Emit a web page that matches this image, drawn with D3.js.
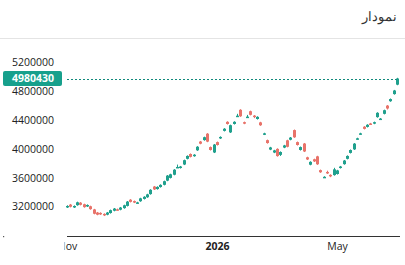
<!DOCTYPE html>
<html lang="fa">
	<head>
		<meta charset="utf-8">
		<title>نمودار</title>
		<script type="text/javascript" src="https://d3js.org/d3.v7.min.js"></script>
		<style type="text/css">
			body { margin: 0; background: #fff; }
			text { font-family: "Open Sans", sans-serif; }
		</style>
	</head>
	<body>
		<script type="text/javascript">

			//Width and height
			var w = 405;
			var h = 265;

			//candle values, in thousands
			var opens = [3190,3229,3190,3221,3256,3234,3204,3206,3162,3119,3114,3100,3089,3112,3144,3164,3158,3180,3211,3297,
				3278,3250,3276,3308,3331,3375,3480,3445,3473,3504,3562,3600,3644,3744,3738,3786,3865,3932,3902,3983,
				4105,4125,4214,4028,3953,4097,4149,4253,4379,4232,4349,4456,4546,4374,4443,4526,4465,4418,4371,4209,
				4124,3993,3952,4003,3920,4021,4122,4130,4264,4097,3988,4077,3886,3783,3859,3899,3708,3607,3683,3642,
				3639,3654,3738,3791,3865,3947,3996,4140,4209,4311,4308,4356,4354,4444,4414,4490,4604,4665,4764,4895];
			var highs = [3220,3238,3218,3270,3264,3242,3232,3214,3170,3127,3122,3108,3127,3160,3182,3174,3196,3228,3279,3305,
				3286,3268,3324,3346,3379,3443,3488,3483,3511,3562,3640,3658,3722,3785,3766,3854,3913,3940,3930,4041,
				4113,4173,4222,4036,4071,4105,4177,4291,4387,4340,4387,4490,4554,4382,4475,4534,4473,4456,4379,4227,
				4132,4031,3990,4011,3968,4059,4130,4168,4272,4105,4036,4085,3894,3831,3867,3907,3716,3623,3700,3650,
				3740,3712,3766,3849,3913,3995,4084,4158,4227,4319,4346,4364,4382,4512,4432,4548,4612,4703,4822,4990];
			var lows = [3182,3190,3183,3214,3218,3186,3196,3158,3094,3081,3086,3070,3081,3104,3136,3146,3150,3172,3203,3259,
				3250,3242,3268,3300,3323,3367,3432,3437,3465,3496,3554,3592,3636,3738,3730,3778,3857,3884,3894,3975,
				4067,4117,4096,3980,3945,4049,4141,4245,4341,4224,4341,4450,4448,4346,4437,4468,4430,4410,4323,4195,
				4076,3985,3944,3895,3905,4013,4024,4122,4156,4049,3980,3959,3848,3775,3821,3781,3670,3600,3655,3610,
				3631,3646,3730,3783,3857,3939,3988,4132,4201,4273,4300,4338,4346,4436,4406,4482,4550,4657,4756,4887];
			var closes = [3210,3199,3210,3261,3226,3194,3224,3166,3102,3089,3094,3080,3119,3152,3174,3154,3188,3220,3271,3267,
				3258,3260,3316,3338,3371,3435,3440,3475,3503,3554,3632,3650,3714,3752,3758,3846,3905,3892,3922,4033,
				4075,4165,4104,3988,4063,4057,4169,4283,4349,4332,4379,4464,4456,4354,4451,4476,4455,4448,4331,4219,
				4084,4023,3982,3903,3960,4051,4032,4160,4164,4057,4028,3967,3856,3823,3829,3789,3678,3615,3675,3634,
				3719,3704,3758,3841,3905,3987,4076,4150,4219,4281,4338,4346,4374,4504,4424,4540,4564,4695,4814,4980.43];

			//axis labels
			var yTicks = [3200, 3600, 4000, 4400, 4800, 5200];
			var xTickLabels = ["Nov", "2026", "May"];
			var xTickIndex = [0, 45, 81];
			var lastValue = 4980430;

			var green = "#1fa08d";
			var red = "#e8736a";

			//Create SVG element
			var svg = d3.select("body")
						.append("svg")
						.attr("width", w)
						.attr("height", h);

			//title bar
			svg.append("text")
				.attr("x", 397)
				.attr("y", 21)
				.attr("text-anchor", "start")
				.attr("direction", "rtl")
				.style("font-size", "13px")
				.style("fill", "#333")
				.text("نمودار");

			svg.append("line")
				.attr("x1", 0).attr("x2", w)
				.attr("y1", 38.5).attr("y2", 38.5)
				.style("stroke", "#e4e4e4");

			//scales
			var x = d3.scaleLinear().domain([0, opens.length - 1]).range([67, 397]);
			var y = d3.scaleLinear().domain([3200, 5200]).range([206.7, 62.7]);

			//y axis labels
			svg.append("g")
				.selectAll("text")
				.data(yTicks)
				.enter()
				.append("text")
				.attr("x", 12)
				.attr("y", function(d) { return y(d); })
				.attr("dy", "0.35em")
				.style("font-size", "10.5px")
				.style("fill", "#222")
				.text(function(d) { return d3.format("d")(d * 1000); });

			//x axis (the first label is cut at the plot's left edge)
			svg.append("clipPath")
				.attr("id", "xclip")
				.append("rect")
				.attr("x", 64.5).attr("y", 0).attr("width", 341).attr("height", 29);

			var xAxis = d3.axisBottom(x)
				.tickValues(xTickIndex)
				.tickSize(0)
				.tickPadding(7)
				.tickFormat(function(d, i) { return xTickLabels[i]; });

			var gx = svg.append("g")
				.attr("transform", "translate(0,236)")
				.attr("clip-path", "url(#xclip)")
				.call(xAxis);
			gx.select(".domain").remove();
			gx.selectAll("text")
				.style("font-family", "'Open Sans', sans-serif")
				.style("font-size", "10.5px")
				.style("fill", "#222")
				.style("font-weight", function(d, i) { return xTickLabels[i] == "2026" ? "bold" : "normal"; });

			svg.append("line")
				.attr("x1", 67).attr("x2", 400)
				.attr("y1", 236.5).attr("y2", 236.5)
				.style("stroke", "#333");

			//stray dot at left
			svg.append("rect")
				.attr("x", 3).attr("y", 236).attr("width", 1.2).attr("height", 1.2)
				.style("fill", "#555");

			//candles
			var idx = d3.range(opens.length);
			var bw = 3;

			svg.append("g")
				.selectAll("line")
				.data(idx)
				.enter()
				.append("line")
				.attr("x1", function(i) { return Math.round(x(i)) + 0.5; })
				.attr("x2", function(i) { return Math.round(x(i)) + 0.5; })
				.attr("y1", function(i) { return y(highs[i]); })
				.attr("y2", function(i) { return y(lows[i]); })
				.style("stroke", function(i) { return closes[i] >= opens[i] ? green : red; })
				.style("stroke-width", 1);

			svg.append("g")
				.selectAll("rect")
				.data(idx)
				.enter()
				.append("rect")
				.attr("x", function(i) { return Math.round(x(i)) + 0.5 - bw / 2; })
				.attr("y", function(i) { return y(Math.max(opens[i], closes[i])); })
				.attr("width", bw)
				.attr("height", function(i) { return Math.max(1.5, Math.abs(y(opens[i]) - y(closes[i]))); })
				.style("fill", function(i) { return closes[i] >= opens[i] ? green : red; });

			//last value line + label
			var ly = y(lastValue / 1000);
			svg.append("line")
				.attr("x1", 67).attr("x2", 398)
				.attr("y1", Math.round(ly) + 0.5).attr("y2", Math.round(ly) + 0.5)
				.style("stroke", "#128a7c")
				.style("stroke-width", 1)
				.style("stroke-dasharray", "2,2");

			svg.append("rect")
				.attr("x", 3).attr("y", ly - 7.5)
				.attr("width", 59).attr("height", 15)
				.attr("rx", 2)
				.style("fill", "#17a08c");

			svg.append("text")
				.attr("x", 12)
				.attr("y", ly)
				.attr("dy", "0.36em")
				.style("font-size", "10.5px")
				.style("font-weight", "bold")
				.style("fill", "#fff")
				.text(lastValue);

		</script>
	</body>
</html>
